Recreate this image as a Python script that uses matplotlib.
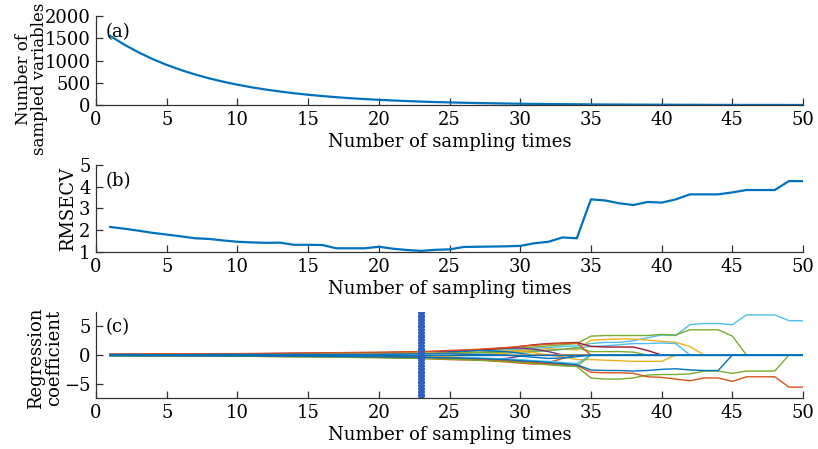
import numpy as np
import matplotlib.pyplot as plt

plt.rcParams["font.family"] = ["DejaVu Serif"]

# ============================
# Data
# ============================
iters = list(range(1, 51))

n_vars = [1557, 1359, 1186, 1035, 904, 789, 689, 601, 525, 458,
          400, 349, 305, 266, 232, 203, 177, 154, 135, 118,
          103, 90, 78, 68, 60, 52, 45, 40, 35, 30,
          26, 23, 20, 18, 15, 13, 12, 10, 9, 8,
          7, 6, 5, 4, 4, 3, 3, 3, 2, 2]

rmsecv = [2.15, 2.07, 1.98, 1.88, 1.80, 1.72, 1.63, 1.60, 1.53, 1.47,
          1.44, 1.42, 1.43, 1.33, 1.33, 1.32, 1.17, 1.17, 1.17, 1.24,
          1.15, 1.09, 1.05, 1.10, 1.12, 1.23, 1.24, 1.25, 1.26, 1.28,
          1.40, 1.47, 1.67, 1.63, 3.42, 3.37, 3.24, 3.16, 3.30, 3.27,
          3.42, 3.65, 3.65, 3.65, 3.74, 3.85, 3.85, 3.85, 4.26, 4.26]

best_iter = 23

# regression coefficient paths, read at these sampling runs
coef_iters = [1, 5, 10, 15, 20, 23, 25, 27, 29, 30, 31, 32, 33, 34,
              35, 36, 37, 38, 39, 40, 41, 42, 43, 44, 45, 46, 47, 48, 49, 50]

coef_paths = {
    "cyan_a": [0.1, 0.1, 0.15, 0.2, 0.3, 0.4, 0.5, 0.7, 0.9, 1.0, 1.2, 1.3, 1.5, 1.6,
               2.0, 2.2, 2.2, 2.5, 3.0, 3.5, 3.4, 5.3, 5.5, 5.5, 5.3, 7.0, 7.0, 7.0, 6.0, 6.0],
    "green_a": [0.1, 0.1, 0.2, 0.25, 0.4, 0.5, 0.6, 0.8, 1.1, 1.2, 1.4, 1.6, 1.8, 2.0,
                3.3, 3.4, 3.4, 3.4, 3.4, 3.6, 3.5, 4.4, 4.4, 4.4, 3.3, 0, 0, 0, 0, 0],
    "orange_a": [0.05, 0.1, 0.1, 0.2, 0.3, 0.3, 0.4, 0.5, 0.7, 0.8, 0.9, 1.1, 1.0, 0.9,
                 2.6, 2.7, 2.8, 2.8, 2.6, 2.4, 2.2, 1.5, 0, 0, 0, 0, 0, 0, 0, 0],
    "cyan_b": [-0.05, -0.1, -0.1, -0.15, -0.2, -0.2, -0.1, 0.1, 0.3, 0.5, 0.6, 0.8, 1.0, 1.2,
               1.5, 1.6, 1.8, 2.0, 2.0, 2.1, 2.0, 0, 0, 0, 0, 0, 0, 0, 0, 0],
    "red_b": [0.1, 0.15, 0.2, 0.3, 0.4, 0.5, 0.6, 0.9, 1.2, 1.5, 1.8, 2.0, 2.1, 2.2,
              1.5, 1.4, 1.4, 1.4, 0.8, 0, 0, 0, 0, 0, 0, 0, 0, 0, 0, 0],
    "green_b": [0.0, 0.05, 0.1, 0.1, 0.2, 0.3, 0.3, 0.4, 0.5, 0.6, 0.7, 0.8, 1.0, 1.3,
                0.6, 0.6, 0.6, 0.5, 0, 0, 0, 0, 0, 0, 0, 0, 0, 0, 0, 0],
    "orange_b": [-0.1, -0.1, -0.15, -0.2, -0.3, -0.3, -0.2, 0.0, 0.3, 0.6, 0.4, 0.0, -0.3, -0.8,
                 -0.8, -0.9, -1.0, -1.1, -1.1, -1.1, 0, 0, 0, 0, 0, 0, 0, 0, 0, 0],
    "purple_a": [0.1, 0.1, 0.2, 0.3, 0.4, 0.5, 0.6, 0.9, 1.3, 1.2, 1.0, 0.6, 0, 0,
                 0, 0, 0, 0, 0, 0, 0, 0, 0, 0, 0, 0, 0, 0, 0, 0],
    "blue_b": [0.0, 0.05, 0.1, 0.15, 0.2, 0.3, 0.5, 0.8, 0.6, 0.3, 0, 0, 0, 0,
               0, 0, 0, 0, 0, 0, 0, 0, 0, 0, 0, 0, 0, 0, 0, 0],
    "red_c": [-0.1, -0.1, -0.2, -0.3, -0.4, -0.6, -0.8, -0.9, -1.2, -1.4, -1.6, -1.3, -0.6, 0,
              0, 0, 0, 0, 0, 0, 0, 0, 0, 0, 0, 0, 0, 0, 0, 0],
    "purple_b": [-0.05, -0.1, -0.1, -0.2, -0.3, -0.4, -0.6, -0.8, -0.6, -0.2, 0, 0, 0, 0,
                 0, 0, 0, 0, 0, 0, 0, 0, 0, 0, 0, 0, 0, 0, 0, 0],
    "orange_c": [0.05, 0.1, 0.1, 0.2, 0.3, 0.4, 0.3, 0, 0, 0, 0, 0, 0, 0,
                 0, 0, 0, 0, 0, 0, 0, 0, 0, 0, 0, 0, 0, 0, 0, 0],
    "green_c": [-0.1, -0.15, -0.2, -0.3, -0.5, -0.6, -0.7, -0.9, -1.0, -1.2, -1.4, -1.6, -1.8, -2.0,
                0, 0, 0, 0, 0, 0, 0, 0, 0, 0, 0, 0, 0, 0, 0, 0],
    "red_d": [0.15, 0.2, 0.25, 0.35, 0.5, 0.6, 0.8, 1.0, 1.3, 1.5, 1.7, 1.9, 2.0, 2.1,
              0, 0, 0, 0, 0, 0, 0, 0, 0, 0, 0, 0, 0, 0, 0, 0],
    "cyan_c": [-0.05, -0.1, -0.15, -0.2, -0.3, -0.4, -0.5, -0.5, -0.7, -0.8, -1.0, -1.1, -1.3, -1.5,
               0, 0, 0, 0, 0, 0, 0, 0, 0, 0, 0, 0, 0, 0, 0, 0],
    "green_d": [-0.1, -0.15, -0.2, -0.3, -0.4, -0.5, -0.6, -0.8, -1.1, -1.3, -1.5, -1.7, -1.9, -2.0,
                -4.0, -4.2, -4.2, -4.0, -3.5, -3.4, -3.4, -3.3, -2.8, -2.8, -3.2, -2.8, -2.8, -2.8, 0, 0],
    "red_a": [-0.05, -0.1, -0.15, -0.2, -0.3, -0.4, -0.5, -0.7, -0.9, -1.1, -1.3, -1.5, -1.6, -1.8,
              -3.0, -3.1, -3.1, -3.2, -3.8, -3.9, -4.2, -4.5, -4.0, -4.0, -4.6, -3.8, -3.8, -3.8, -5.6, -5.6],
    "blue_a": [-0.1, -0.1, -0.15, -0.2, -0.3, -0.4, -0.5, -0.6, -0.8, -1.0, -1.1, -1.3, -1.5, -1.7,
               -2.6, -2.7, -2.7, -2.8, -2.7, -2.5, -2.4, -2.6, -2.7, -2.7, 0, 0, 0, 0, 0, 0],
    "blue_c": [0.05, 0.05, 0.1, 0.1, 0.15, 0.2, 0.2, 0.1, 0.0, -0.2, -0.4, -0.6, -0.5, -0.3,
               0, 0, 0, 0, 0, 0, 0, 0, 0, 0, 0, 0, 0, 0, 0, 0],
}

path_colors = {
    "cyan": "#4DBEEE", "green": "#77AC30", "orange": "#EDB120", "red": "#D95319",
    "blue": "#0072BD", "purple": "#7E2F8E",
}
darkred = "#A2142F"

# ============================
# Figure
# ============================
fig = plt.figure(figsize=(8.18, 4.49), dpi=100)
ax_a = fig.add_axes([0.1174, 0.766, 0.8643, 0.198])
ax_b = fig.add_axes([0.1174, 0.4388, 0.8643, 0.1937])
ax_c = fig.add_axes([0.1174, 0.1136, 0.8643, 0.1914])

line_blue = "#0072BD"
fs = 13

# (a) number of sampled variables
ax_a.plot(iters, n_vars, color=line_blue, lw=1.6)
ax_a.set_ylim(0, 2000)
ax_a.set_yticks([0, 500, 1000, 1500, 2000])
ax_a.set_ylabel("Number of\nsampled variables", fontsize=12, linespacing=0.95)
ax_a.yaxis.set_label_coords(-0.068, 0.29)

# (b) RMSECV
ax_b.plot(iters, rmsecv, color=line_blue, lw=1.6)
ax_b.set_ylim(1, 5)
ax_b.set_yticks([1, 2, 3, 4, 5])
ax_b.set_ylabel("RMSECV", fontsize=fs)
ax_b.yaxis.set_label_coords(-0.027, 0.5)

# (c) regression coefficient paths
for name, vals in coef_paths.items():
    key = name.split("_")[0]
    c = darkred if name.startswith("red_b") else path_colors[key]
    ax_c.plot(coef_iters, vals, color=c, lw=1.0)
ax_c.plot([1, 50], [0, 0], color=line_blue, lw=1.0)
ax_c.plot([best_iter] * 60, np.linspace(-7.4, 7.4, 60), ls="none", marker="*",
          ms=5, color="#2F5FC0", mew=1.0)
ax_c.set_ylim(-7.5, 7.5)
ax_c.set_yticks([-5, 0, 5])
ax_c.set_yticklabels(["\u22125", "0", "5"])
ax_c.set_ylabel("Regression\ncoefficient", fontsize=fs, linespacing=0.95)
ax_c.yaxis.set_label_coords(-0.047, 0.465)

for ax, tag in zip([ax_a, ax_b, ax_c], ["(a)", "(b)", "(c)"]):
    ax.set_xlim(0, 50)
    ax.set_xticks(range(0, 51, 5))
    ax.set_xlabel("Number of sampling times", fontsize=fs, labelpad=3)
    ax.spines["top"].set_visible(False)
    ax.spines["right"].set_visible(False)
    for s in ["left", "bottom"]:
        ax.spines[s].set_color("#333333")
        ax.spines[s].set_linewidth(0.9)
    ax.tick_params(direction="in", length=5, width=0.9, labelsize=fs, pad=4,
                   color="#333333")
    ax.text(0.013, 0.82, tag, transform=ax.transAxes, fontsize=fs,
            ha="left", va="center")

plt.savefig("out.png", dpi=100)
plt.close()
